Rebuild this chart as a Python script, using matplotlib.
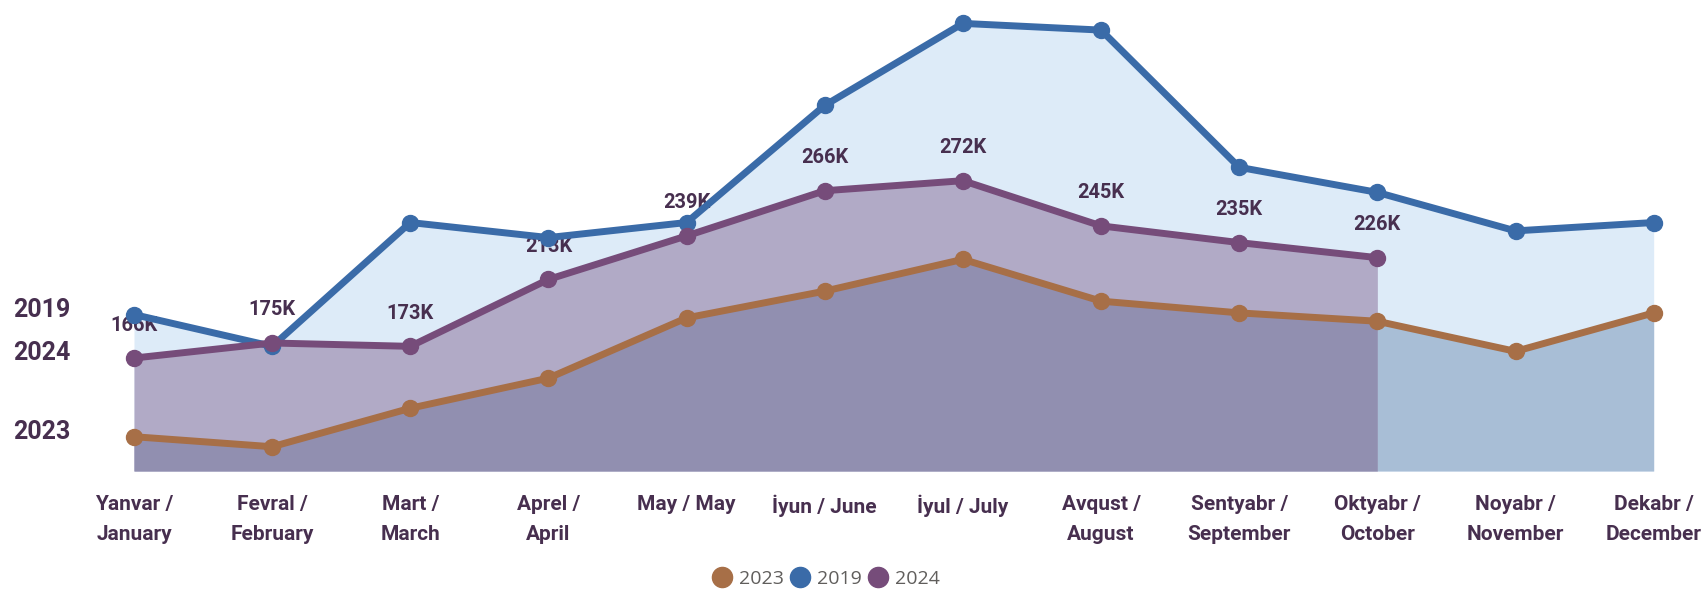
import numpy as np
import matplotlib.pyplot as plt
from matplotlib.lines import Line2D

months = ["Yanvar /\nJanuary", "Fevral /\nFebruary", "Mart /\nMarch", "Aprel /\nApril",
          "May / May", "İyun / June", "İyul / July", "Avqust /\nAugust",
          "Sentyabr /\nSeptember", "Oktyabr /\nOctober", "Noyabr /\nNovember",
          "Dekabr /\nDecember"]

# visitors, thousands
v2019 = [192, 173, 247, 238, 247, 317, 366, 362, 280, 265, 242, 247]
v2023 = [119, 113, 136, 154, 190, 206, 225, 200, 193, 188, 170, 193]
v2024 = [166, 175, 173, 213, 239, 266, 272, 245, 235, 226]
labels_2024 = ["166K", "175K", "173K", "213K", "239K", "266K", "272K", "245K", "235K", "226K"]

c2019 = "#3a6ba8"
c2023 = "#a76f47"
c2024 = "#764c7a"
text_color = "#472f4f"
bold_font = ["Roboto", "DejaVu Sans"]

x = np.arange(len(months))
x24 = np.arange(len(v2024))
ymin = 98.5

fig = plt.figure(figsize=(17.07, 5.91), dpi=100)
ax = fig.add_axes([100 / 1707, 120 / 591, 1590 / 1707, 463 / 591])

# area fills
ax.fill_between(x, v2019, ymin, color="#ddebf8", linewidth=0, zorder=1)
ax.fill_between(x24, v2024, ymin, color="#b1aac6", linewidth=0, zorder=2)
ax.fill_between(x[:10], v2023[:10], ymin, color="#918fb0", linewidth=0, zorder=3)
ax.fill_between(x[9:], v2023[9:], ymin, color="#a8bed6", linewidth=0, zorder=3)

# data labels for 2024
for xi, v, lab in zip(x24, v2024, labels_2024):
    ax.annotate(lab, xy=(xi, v), xytext=(0, 33), textcoords="offset pixels",
                ha="center", va="center", fontsize=14.4, fontweight="bold",
                family=bold_font, color=text_color, zorder=4)

ax.plot(x, v2023, color=c2023, lw=5, marker="o", markersize=11.5, zorder=5)
ax.plot(x, v2019, color=c2019, lw=5, marker="o", markersize=11.5, zorder=6)
ax.plot(x24, v2024, color=c2024, lw=5, marker="o", markersize=11.5, zorder=7)

# series names at the left
for name, v in [("2019", v2019[0]), ("2024", v2024[0]), ("2023", v2023[0])]:
    ax.annotate(name, xy=(0, v), xytext=(13 - 134, 5), textcoords="offset pixels",
                ha="left", va="center", fontsize=18, fontweight="bold",
                family=bold_font, color=text_color, annotation_clip=False)

ax.set_xlim(-0.246, 11.263)
ax.set_ylim(ymin, 375.2)
ax.set_xticks(x)
ax.set_xticklabels(months, fontsize=15, fontweight="bold", family=bold_font,
                   color=text_color, linespacing=1.78, va="top")
ax.tick_params(axis="x", length=0, pad=17)
ax.set_yticks([])
for s in ax.spines.values():
    s.set_visible(False)

handles = [Line2D([], [], ls="none", marker="o", markersize=14.5, color=c)
           for c in (c2023, c2019, c2024)]
fig.legend(handles, ["2023", "2019", "2024"], loc="center", bbox_to_anchor=(826 / 1707, 1 - 579 / 591),
           ncol=3, frameon=False, handletextpad=0.35, columnspacing=0.35,
           handlelength=1.0, prop={"family": ["Open Sans", "DejaVu Sans"], "size": 14},
           labelcolor="#605e5c")

plt.savefig("out.png", dpi=100)
plt.close()
